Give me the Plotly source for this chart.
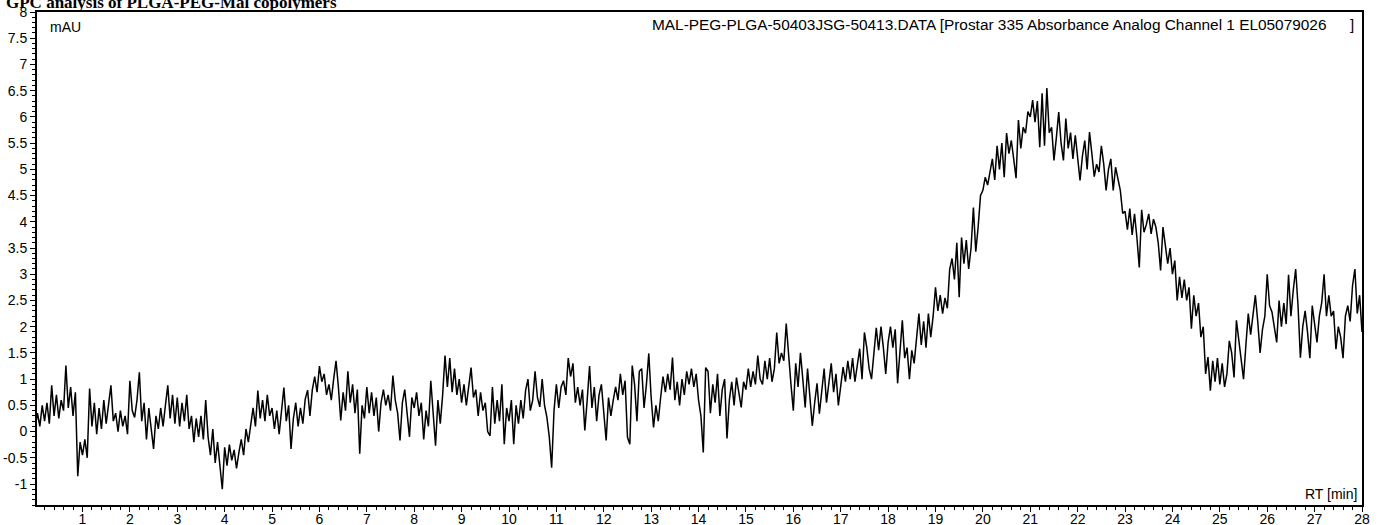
import plotly.graph_objects as go

# Sample time grid (min), 0.05-min steps from 0 to 28
rt = [round(0.05 * i, 2) for i in range(561)]

# Absorbance values (mAU), one row per minute
m00 = [0.05, 0.35, 0.10, 0.50, 0.20, 0.55, 0.15, 0.88, 0.30, 0.70, 0.25, 0.60, 0.40, 1.26, 0.45, 0.85, 0.30, 0.75, -0.85, -0.20]
m01 = [-0.45, -0.15, -0.50, 0.82, 0.10, 0.55, -0.05, 0.45, 0.05, 0.60, 0.15, 0.50, 0.88, 0.20, 0.35, 0.00, 0.40, 0.10, 0.30, -0.05]
m02 = [0.97, 0.40, 0.27, 0.60, 1.13, 0.20, 0.55, -0.15, 0.45, 0.05, -0.33, 0.30, 0.05, 0.45, 0.10, 0.50, 0.88, 0.25, 0.70, 0.15]
m03 = [0.65, 0.10, 0.55, 0.20, 0.70, 0.05, 0.30, -0.20, 0.25, -0.10, 0.30, -0.15, 0.60, -0.10, -0.45, 0.05, -0.60, -0.20, -0.70, -1.10]
m04 = [-0.30, -0.65, -0.25, -0.55, -0.35, -0.70, -0.40, -0.15, -0.45, 0.05, -0.20, 0.15, 0.45, 0.10, 0.78, 0.25, 0.60, 0.20, 0.70, 0.30]
m05 = [0.45, 0.05, 0.40, -0.05, 0.35, 0.84, 0.20, 0.50, -0.33, 0.25, 0.55, 0.10, 0.45, 0.15, 0.62, 0.79, 0.30, 0.80, 1.05, 0.75]
m06 = [1.25, 0.95, 1.10, 0.70, 0.90, 0.60, 1.00, 1.35, 0.85, 0.21, 0.75, 0.40, 1.15, 0.55, 0.90, 0.35, 0.80, -0.42, 0.50, 0.25]
m07 = [0.85, 0.35, 0.75, 0.30, 0.65, 0.00, 0.55, 0.80, 0.50, 0.70, 0.40, 1.07, 0.60, 0.35, -0.17, 0.55, 0.80, 0.30, -0.10, 0.65]
m08 = [0.45, 0.75, 0.30, 0.55, -0.15, 0.40, 0.10, 0.97, 0.35, -0.27, 0.60, 0.15, 0.70, 1.45, 0.85, 1.40, 0.75, 1.20, 0.70, 1.00]
m09 = [0.55, 0.90, 0.50, 0.85, 1.22, 0.65, 0.80, 0.30, 0.75, 0.40, 0.55, 0.00, -0.08, 0.85, 0.15, 0.60, 0.20, 0.90, -0.24, 0.45]
m10 = [0.20, 0.60, -0.24, 0.50, 0.15, 0.60, 0.25, 0.78, 1.00, 0.40, 0.60, 1.15, 0.65, 0.47, 1.00, 0.50, 0.27, -0.10, -0.69, 0.40]
m11 = [0.90, 0.45, 0.85, 0.97, 0.70, 1.40, 1.05, 1.30, 0.55, 0.85, 0.50, 0.80, 0.02, 0.60, 1.25, 0.45, 0.85, 0.20, 0.70, 0.90]
m12 = [0.40, -0.17, 0.65, 0.30, 0.60, 0.85, 0.60, 1.10, 0.70, 0.97, -0.11, -0.24, 1.26, 0.90, 0.20, 1.15, 1.20, 0.45, 0.90, 1.49]
m13 = [0.65, 0.08, 0.50, 0.20, 0.65, 1.05, 0.75, 1.10, 0.80, 1.41, 0.60, 0.95, 0.50, 1.00, 0.70, 1.15, 0.90, 1.20, 0.85, 1.10]
m14 = [0.60, 0.30, -0.40, 1.22, 1.15, 0.35, 0.90, 0.55, 1.10, 0.30, 0.80, 1.00, -0.13, 0.60, 0.95, 0.50, 1.03, 0.70, 0.46, 0.95]
m15 = [0.80, 1.20, 0.85, 1.15, 0.90, 1.45, 1.00, 0.90, 1.35, 1.00, 1.40, 0.95, 1.20, 1.89, 1.30, 1.50, 1.35, 2.06, 1.40, 0.90]
m16 = [0.40, 1.30, 0.85, 1.50, 1.00, 0.46, 1.20, 0.60, 0.11, 0.55, 0.92, 0.34, 0.80, 1.20, 0.55, 0.95, 1.30, 0.75, 1.10, 0.50]
m17 = [0.90, 1.23, 0.95, 1.35, 1.00, 1.40, 0.95, 1.30, 1.58, 1.00, 1.89, 1.60, 1.20, 1.00, 1.45, 1.98, 1.55, 2.00, 1.60, 1.10]
m18 = [1.70, 2.00, 1.60, 1.95, 0.92, 1.50, 2.12, 1.40, 1.60, 1.00, 1.55, 1.30, 1.80, 2.25, 1.65, 2.10, 1.60, 2.25, 1.80, 2.20]
m19 = [2.75, 2.30, 2.60, 2.25, 2.55, 2.35, 3.10, 3.30, 2.90, 3.60, 2.56, 3.70, 3.20, 3.65, 3.10, 3.50, 4.27, 3.43, 3.90, 4.50]
m20 = [4.60, 4.85, 4.70, 4.95, 5.20, 4.80, 5.45, 5.00, 5.50, 4.85, 5.69, 5.30, 5.55, 5.20, 4.83, 5.94, 5.40, 5.80, 5.69, 6.10]
m21 = [6.00, 6.32, 5.90, 6.30, 5.42, 6.45, 5.45, 6.55, 5.70, 5.80, 5.17, 5.60, 6.09, 5.50, 5.17, 5.97, 5.40, 5.70, 5.20, 5.65]
m22 = [5.15, 4.79, 5.25, 5.55, 5.00, 5.71, 5.30, 4.86, 5.10, 4.95, 5.45, 5.10, 4.60, 5.00, 5.20, 4.60, 5.04, 4.80, 4.60, 4.16]
m23 = [4.20, 3.85, 4.25, 3.75, 4.15, 3.70, 3.13, 4.23, 3.80, 3.95, 4.15, 3.77, 4.05, 3.90, 3.60, 3.07, 3.90, 3.55, 3.20, 3.50]
m24 = [3.00, 3.26, 2.50, 2.95, 2.55, 2.90, 2.50, 2.75, 1.96, 2.60, 2.20, 2.45, 1.80, 2.00, 1.10, 1.42, 0.78, 1.35, 0.95, 1.40]
m25 = [0.90, 1.30, 0.85, 1.10, 1.73, 1.50, 1.03, 2.12, 1.75, 1.40, 1.00, 1.65, 2.25, 1.85, 2.20, 2.60, 2.10, 1.50, 1.95, 2.20]
m26 = [3.00, 2.40, 2.28, 2.00, 1.70, 2.50, 2.00, 2.45, 2.05, 2.99, 2.20, 2.70, 3.10, 2.40, 1.41, 2.00, 2.30, 1.90, 1.40, 2.40]
m27 = [2.00, 1.70, 2.20, 2.46, 3.00, 2.20, 2.60, 2.20, 2.30, 1.57, 2.00, 1.80, 1.40, 2.20, 2.40, 2.10, 2.78, 3.10, 2.25, 2.60]
m28 = [1.90]

signal = (m00 + m01 + m02 + m03 + m04 + m05 + m06 + m07 + m08 + m09 + m10 + m11 + m12 + m13
          + m14 + m15 + m16 + m17 + m18 + m19 + m20 + m21 + m22 + m23 + m24 + m25 + m26 + m27 + m28)

# Axis ticks
x_tickvals = list(range(1, 29))
x_ticktext = [str(v) for v in x_tickvals]
y_tickvals = [-1, -0.5, 0, 0.5, 1, 1.5, 2, 2.5, 3, 3.5, 4, 4.5, 5, 5.5, 6, 6.5, 7, 7.5, 8]
y_ticktext = ["-1", "-0.5", "0", "0.5", "1", "1.5", "2", "2.5", "3", "3.5", "4", "4.5",
              "5", "5.5", "6", "6.5", "7", "7.5", "8"]

title_text = "GPC analysis of PLGA-PEG-Mal copolymers"
header_text = "MAL-PEG-PLGA-50403JSG-50413.DATA [Prostar 335 Absorbance Analog Channel 1 EL05079026"
y_unit = "mAU"
x_unit = "RT [min]"

W, H = 1380, 525
L, R, T, B = 37, 18, 12, 20
pw, ph = W - L - R, H - T - B

def px(xp):
    return (xp - L) / pw

def py(yp):
    return (H - B - yp) / ph

FONT = "Liberation Sans, Arial, sans-serif"

fig = go.Figure()
fig.add_trace(go.Scatter(x=rt, y=signal, mode="lines",
                         line=dict(color="black", width=1.5), showlegend=False,
                         hoverinfo="x+y"))

axis_common = dict(showline=True, linecolor="black", linewidth=2, mirror=True,
                   showgrid=False, zeroline=False, ticks="outside", tickcolor="black",
                   tickwidth=1, automargin=False)

fig.update_xaxes(range=[0.04, 28.0], tickmode="array", tickvals=x_tickvals, ticktext=x_ticktext,
                 ticklen=5, ticklabelstandoff=-5,
                 tickfont=dict(family=FONT, size=14, color="black"),
                 minor=dict(tick0=0, dtick=0.2, ticks="outside", ticklen=3, tickcolor="black",
                            showgrid=False),
                 **axis_common)
fig.update_yaxes(range=[-1.4, 8.0], tickmode="array", tickvals=y_tickvals, ticktext=y_ticktext,
                 ticklen=5, tickfont=dict(family=FONT, size=14, color="black"),
                 minor=dict(tick0=0, dtick=0.1, ticks="outside", ticklen=3, tickcolor="black",
                            showgrid=False),
                 **axis_common)

annotations = [
    dict(text="<b>" + title_text + "</b>", xref="paper", yref="paper", x=px(4), y=py(14),
         xanchor="left", yanchor="bottom", showarrow=False,
         font=dict(family="Liberation Serif, Times New Roman, serif", size=17, color="black")),
    dict(text=y_unit, xref="paper", yref="paper", x=px(48), y=py(27),
         xanchor="left", yanchor="middle", showarrow=False,
         font=dict(family=FONT, size=14, color="black")),
    dict(text=header_text, xref="paper", yref="paper", x=px(1328), y=py(24),
         xanchor="right", yanchor="middle", showarrow=False,
         font=dict(family=FONT, size=15.4, color="black")),
    dict(text="]", xref="paper", yref="paper", x=px(1356), y=py(24),
         xanchor="right", yanchor="middle", showarrow=False,
         font=dict(family=FONT, size=15, color="black")),
    dict(text=x_unit, xref="paper", yref="paper", x=px(1359), y=py(494),
         xanchor="right", yanchor="middle", showarrow=False,
         font=dict(family=FONT, size=14, color="black")),
]

fig.update_layout(width=W, height=H, margin=dict(l=L, r=R, t=T, b=B),
                  paper_bgcolor="white", plot_bgcolor="white",
                  annotations=annotations, showlegend=False)

fig.write_html("out.html", config={"displayModeBar": False},
               post_script="document.body.style.margin='0';document.body.style.overflow='hidden';")
